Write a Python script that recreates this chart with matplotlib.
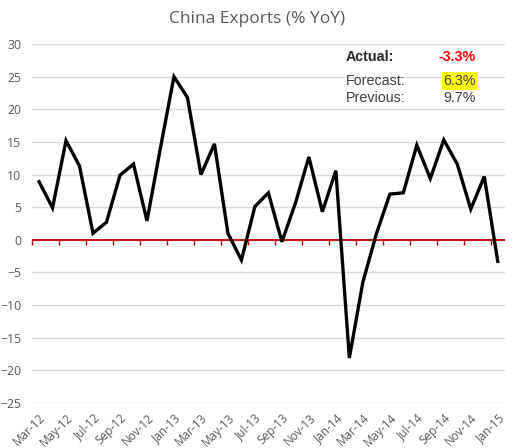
import matplotlib
matplotlib.use("Agg")
import matplotlib.pyplot as plt
import numpy as np

months = ["Mar-12", "Apr-12", "May-12", "Jun-12", "Jul-12", "Aug-12", "Sep-12", "Oct-12",
          "Nov-12", "Dec-12", "Jan-13", "Feb-13", "Mar-13", "Apr-13", "May-13", "Jun-13",
          "Jul-13", "Aug-13", "Sep-13", "Oct-13", "Nov-13", "Dec-13", "Jan-14", "Feb-14",
          "Mar-14", "Apr-14", "May-14", "Jun-14", "Jul-14", "Aug-14", "Sep-14", "Oct-14",
          "Nov-14", "Dec-14", "Jan-15"]
exports = [8.9, 4.9, 15.2, 11.3, 1.0, 2.7, 9.9, 11.6,
           2.9, 14.1, 25.0, 21.8, 10.0, 14.7, 1.0, -3.1,
           5.1, 7.2, -0.3, 5.6, 12.7, 4.3, 10.6, -18.1,
           -6.5, 0.9, 7.0, 7.2, 14.5, 9.4, 15.3, 11.6,
           4.7, 9.7, -3.3]

title = "China Exports (% YoY)"
actual_txt, forecast_txt, previous_txt = "-3.3%", "6.3%", "9.7%"

W, H = 513, 448
fig = plt.figure(figsize=(W / 100, H / 100), dpi=100)
ax = fig.add_axes([32.3 / W, 1 - 403 / H, (504.5 - 32.3) / W, (403 - 44) / H])

x = np.arange(len(months))
ymin, ymax = -25, 30
ax.set_ylim(ymin, ymax)
ax.set_xlim(-0.5, len(months) - 0.5)

ax.set_yticks(np.arange(ymin, ymax + 1, 5))
ax.yaxis.grid(True, color="#D9D9D9", linewidth=1)
ax.set_axisbelow(True)
for s in ax.spines.values():
    s.set_visible(False)
ax.tick_params(axis="y", length=0, pad=8, labelsize=8.8, labelcolor="#595959")
for lab in ax.get_yticklabels():
    lab.set_fontfamily("Open Sans")

ax.set_xticks(x[::2])
ax.set_xticklabels(months[::2], rotation=45, ha="right", va="top",
                   rotation_mode="anchor", fontsize=8.5, color="#595959", fontfamily="Open Sans")
ax.tick_params(axis="x", length=0, pad=6)

# zero axis line (red) with tick marks
ax.axhline(0, color="#C00000", linewidth=1.3, zorder=2)
zero_frac = (0 - ymin) / (ymax - ymin)
sec = ax.secondary_xaxis(zero_frac)
sec.set_xticks(np.arange(-0.5, len(months) - 1, 2))
sec.set_xticklabels([])
sec.tick_params(axis="x", direction="out", length=3.5, width=1, color="#C00000")
for s in sec.spines.values():
    s.set_visible(False)

ax.plot(x, exports, color="black", linewidth=2.4, solid_joinstyle="miter", zorder=3)

fig.text(257 / W, 1 - 23 / H, title, ha="center", va="baseline",
         fontsize=12.5, color="#595959", fontfamily="Open Sans")

lx, rx = 345.5 / W, 476 / W
fs = 10.3
fig.text(lx, 1 - 61 / H, "Actual:", ha="left", va="baseline", fontsize=fs,
         fontweight="bold", color="#262626", fontfamily="Liberation Sans")
fig.text(rx, 1 - 61 / H, actual_txt, ha="right", va="baseline", fontsize=fs,
         fontweight="bold", color="#FF0000", fontfamily="Liberation Sans")
fig.text(lx, 1 - 85 / H, "Forecast:", ha="left", va="baseline", fontsize=fs,
         color="#404040", fontfamily="Liberation Sans")
fig.text(rx, 1 - 85 / H, forecast_txt, ha="right", va="baseline", fontsize=fs,
         color="#404040", fontfamily="Liberation Sans",
         bbox=dict(facecolor="#FFFF00", edgecolor="none", boxstyle="square,pad=0.12"))
fig.text(lx, 1 - 101.7 / H, "Previous:", ha="left", va="baseline", fontsize=fs,
         color="#404040", fontfamily="Liberation Sans")
fig.text(rx, 1 - 101.7 / H, previous_txt, ha="right", va="baseline", fontsize=fs,
         color="#404040", fontfamily="Liberation Sans")

fig.savefig("out.png", dpi=100, facecolor="white")
